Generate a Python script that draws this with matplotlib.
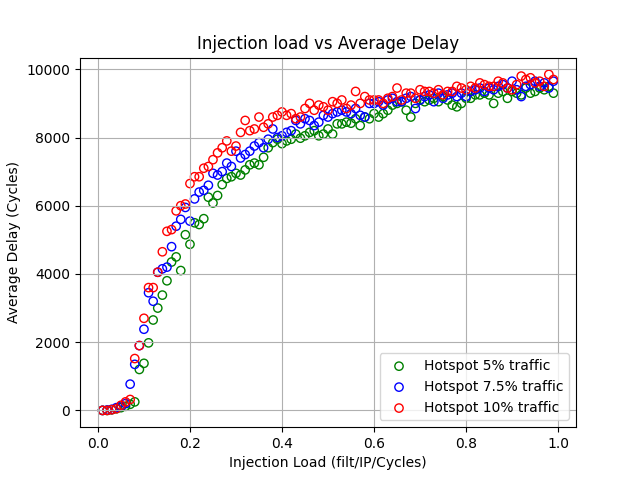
import matplotlib
matplotlib.use("Agg")
import matplotlib.pyplot as plt
import numpy as np

x = [round(0.01 * i, 2) for i in range(1, 100)]

green = [0, 0, 20, 50, 80, 120, 180, 250, 1200, 1380,
         1980, 2650, 3000, 3380, 3800, 4350, 4500, 4100, 5150, 4870,
         5500, 5450, 5620, 6250, 6080, 6300, 6620, 6800, 6850, 6950,
         6900, 7050, 7200, 7250, 7200, 7420, 7700, 7850, 7950, 7820,
         7900, 7950, 8100, 7980, 8050, 8150, 8200, 8050, 8100, 8250,
         8100, 8400, 8400, 8450, 8420, 8550, 8350, 8600, 8550, 8700,
         8600, 8700, 8800, 8950, 9000, 9050, 8800, 8600, 9000, 9100,
         9050, 9100, 9150, 9050, 9200, 9100, 8950, 8900, 9000, 9150,
         9150, 9250, 9250, 9300, 9250, 9000, 9300, 9350, 9150, 9350,
         9300, 9250, 9450, 9300, 9350, 9450, 9400, 9500, 9300]

blue = [0, 10, 30, 80, 120, 200, 770, 1350, 1900, 2380,
        3450, 3200, 4050, 4150, 4200, 4800, 5400, 5600, 5950, 5550,
        6200, 6400, 6450, 6600, 6950, 6900, 7000, 7250, 7150, 7600,
        7400, 7500, 7600, 7750, 7850, 7700, 7950, 8250, 8000, 8050,
        8150, 8200, 8500, 8400, 8550, 8500, 8350, 8450, 8650, 8600,
        8700, 8750, 8800, 8750, 8700, 8850, 8650, 8600, 9000, 9000,
        9050, 8950, 9100, 9150, 9050, 9050, 9150, 9200, 8850, 9100,
        9200, 9250, 9050, 9300, 9150, 9250, 9300, 9200, 9300, 9200,
        9350, 9400, 9450, 9350, 9450, 9400, 9500, 9550, 9450, 9650,
        9400, 9200, 9500, 9550, 9650, 9500, 9600, 9450, 9650]

red = [0, 0, 20, 50, 150, 250, 320, 1520, 1900, 2700,
       3600, 3600, 4050, 4650, 5250, 5300, 5850, 6000, 6050, 6650,
       6850, 6850, 7100, 7150, 7350, 7550, 7700, 7900, 7600, 7750,
       8150, 8500, 8200, 8250, 8600, 8300, 8400, 8600, 8650, 8750,
       8650, 8700, 8550, 8600, 8850, 9000, 8800, 8950, 8900, 8800,
       9050, 9000, 9100, 8850, 8950, 9350, 9000, 9200, 9100, 9100,
       9100, 9000, 9150, 9200, 9450, 9100, 9300, 9300, 9150, 9400,
       9350, 9350, 9300, 9400, 9250, 9350, 9350, 9500, 9450, 9400,
       9500, 9450, 9600, 9550, 9500, 9500, 9650, 9600, 9450, 9400,
       9550, 9800, 9700, 9750, 9600, 9650, 9500, 9850, 9700]

series = [(green, "green", "Hotspot 5% traffic"),
          (blue, "blue", "Hotspot 7.5% traffic"),
          (red, "red", "Hotspot 10% traffic")]

fig, ax = plt.subplots(figsize=(6.4, 4.8), dpi=100)
for vals, col, lab in series:
    ax.scatter(x, vals, facecolors="none", edgecolors=col, label=lab)
ax.set_title("Injection load vs Average Delay")
ax.set_xlabel("Injection Load (filt/IP/Cycles)")
ax.set_ylabel("Average Delay (Cycles)")
ax.grid(True)
ax.legend(loc="lower right")
fig.savefig("out.png")
